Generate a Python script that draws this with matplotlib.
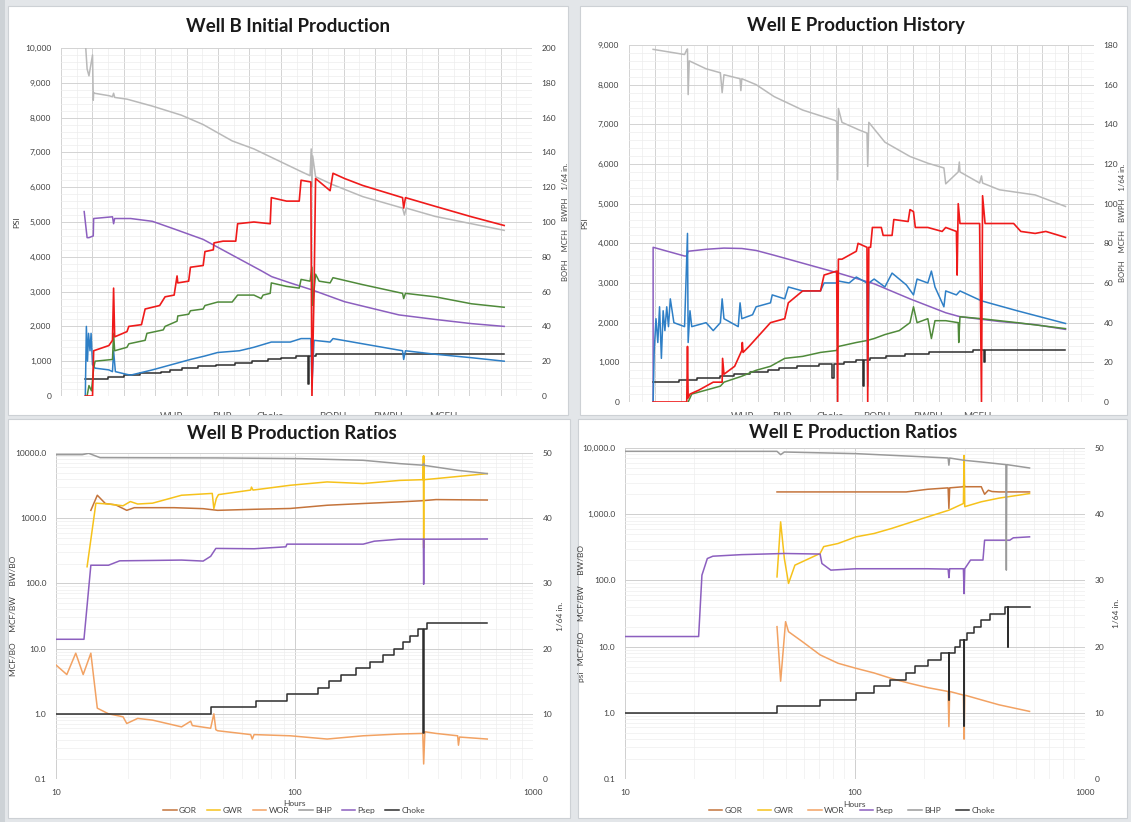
import matplotlib
matplotlib.use("Agg")
import matplotlib.pyplot as plt
import numpy as np
from matplotlib.patches import Rectangle
from matplotlib.ticker import FuncFormatter, LogLocator, NullFormatter

plt.rcParams['font.family'] = ['Lato', 'DejaVu Sans']

# ---------------- Well B initial production (hours; psi / right axis units)
wb_bhp_h = [10.7, 13.4, 16.2, 18.9, 21.6, 22.7, 23.3, 24.4, 46.3, 51.7, 53.4, 55.0, 73.6, 111.9, 155.7,
            188.6, 232.4, 265.2, 298.0, 336.4, 350.0, 351.7, 352.8, 353.9, 358.3, 384.6, 429.4, 489.6,
            492.4, 495.1, 538.9, 593.7, 643.0]
wb_bhp = [10200, 9400, 9200, 9500, 9800, 8500, 8720, 8700, 8630, 8600, 8700, 8580, 8530, 8330, 8070,
          7800, 7330, 7100, 6800, 6450, 6330, 7100, 6000, 6900, 6300, 6070, 5730, 5400,
          5200, 5400, 5160, 4950, 4760]

wb_whp_h = [9.0, 13.4, 16.2, 22.7, 23.3, 51.7, 53.4, 55.0, 79.1, 111.9, 144.8, 188.6, 213.0, 232.4,
            276.2, 292.0, 320.0, 352.8, 402.0, 484.2, 538.9, 593.7, 643.0]
wb_whp = [5300, 4550, 4550, 4600, 5100, 5150, 4950, 5100, 5100, 5020, 4800, 4500, 4250, 4050,
          3600, 3430, 3250, 3050, 2710, 2330, 2200, 2080, 2000]

wb_boph_h = [10.7, 21.6, 23.3, 46.3, 51.7, 53.4, 55.0, 73.6, 76.4, 95.5, 101.0, 122.9, 131.1, 144.8,
             149.2, 150.3, 166.7, 169.4, 188.6, 191.3, 203.9, 205.0, 218.7, 237.8, 240.6, 265.2, 289.8,
             291.5, 314.5, 333.6, 336.4, 351.2, 352.8, 356.0, 358.3, 380.2, 384.6, 402.0, 429.4, 489.6,
             491.3, 494.0, 538.9, 593.7, 643.0]
wb_boph = [0, 0, 26, 29, 32, 62, 34, 37, 40, 41, 50, 52, 57, 58,
           69, 65, 66, 74, 75, 83, 84, 88, 89, 89, 99, 100, 99,
           114, 112, 112, 124, 123, 0, 60, 125, 118, 128, 125, 121, 114,
           108, 114, 109, 103, 98]

wb_mcfh_h = [13.4, 16.2, 20.0, 23.3, 25.5, 51.7, 53.4, 55.0, 73.6, 76.4, 101.0, 103.7, 128.4, 131.1,
             149.2, 150.3, 166.7, 169.4, 188.6, 191.3, 210.5, 232.4, 240.6, 265.2, 276.2, 279.0, 289.8,
             291.5, 314.5, 333.6, 336.4, 350.0, 352.8, 353.9, 358.3, 363.7, 380.2, 384.6, 429.4, 489.6,
             491.3, 494.0, 538.9, 593.7, 643.0]
wb_mcfh = [0, 6, 3, 16, 20, 21, 36, 26, 28, 30, 32, 36, 38, 40,
           43, 46, 47, 49, 50, 52, 54, 54, 58, 58, 56, 58, 59,
           65, 63, 62, 67, 66, 74, 52, 70, 66, 65, 68, 64, 59,
           56, 59, 57, 53, 51]

wb_bwph_h = [10.7, 12.3, 14.0, 15.6, 17.8, 19.4, 21.6, 25.5, 46.3, 51.7, 53.4, 56.1, 73.6, 79.1, 101.0,
             111.9, 131.1, 150.3, 169.4, 191.3, 210.5, 243.3, 265.2, 291.5, 320.0, 336.4, 351.2, 352.8,
             356.0, 380.2, 384.6, 429.4, 489.6, 491.3, 494.0, 538.9, 593.7, 643.0]
wb_bwph = [0, 40, 20, 36, 26, 36, 18, 16, 15, 14, 26, 14, 12.4, 12, 14,
           15, 17, 19, 21, 23, 25, 26, 28, 31, 31, 33, 33, 6,
           32, 31, 33, 30, 26, 21, 26, 24, 22, 20]

wb_choke_h = [10, 44.5, 68.9, 92.9, 125, 139, 157, 181, 208, 236, 262, 286, 306, 329, 347, 349, 359, 643]
wb_choke = [10, 11, 12, 13, 14, 15, 16, 17, 18, 19, 20, 21, 22, 23, 7, 23, 24, 24]

# ---------------- Well B production ratios
wbr_bhp_h = [10, 12.9, 13.7, 15.3, 47.6, 107, 194, 276, 345, 348, 351, 483, 643]
wbr_bhp = [9430, 9430, 9900, 8490, 8400, 8190, 7730, 6870, 6500, 6900, 6450, 5430, 4830]

wbr_gwr_h = [13.5, 14.7, 16.6, 19.1, 20.5, 22.0, 25.4, 33.6, 45.2, 45.9, 47.0, 48.0, 65.5, 66.0, 67.0,
             96, 137, 194, 276, 346, 347, 348, 349, 350, 392, 643]
wbr_gwr = [180, 1700, 1650, 1550, 1800, 1650, 1700, 2250, 2400, 1400, 2000, 2300, 2700, 3000, 2700,
           3200, 3600, 3400, 3800, 3900, 9000, 350, 9000, 3900, 4050, 4830]

wbr_gor_h = [14.0, 14.9, 16.1, 17.8, 19.8, 21.3, 25.4, 31.3, 41.4, 47.6, 67.7, 96, 137, 194, 276, 340, 392, 643]
wbr_gor = [1320, 2250, 1680, 1600, 1320, 1450, 1450, 1450, 1400, 1320, 1370, 1410, 1580, 1680, 1780, 1850, 1930, 1900]

wbr_wor_h = [10, 11.1, 12.1, 13.0, 14.0, 14.9, 16.6, 19.1, 19.8, 22.0, 25.4, 33.6, 36.7, 37.3, 44.5,
             45.9, 46.8, 47.6, 65.5, 66.5, 67.7, 96, 137, 194, 276, 345, 348, 352, 392, 483, 487, 492, 643]
wbr_wor = [5.6, 4.0, 8.5, 4.0, 8.5, 1.22, 1.0, 0.9, 0.71, 0.85, 0.8, 0.63, 0.77, 0.66, 0.6,
           1.0, 0.57, 0.55, 0.48, 0.41, 0.48, 0.46, 0.41, 0.46, 0.49, 0.5, 0.17, 0.53, 0.5, 0.46, 0.33, 0.44, 0.41]

wbr_psep_h = [10, 13.1, 14.0, 16.6, 18.5, 25.4, 33.6, 41.4, 44.5, 46.8, 67.7, 92, 93, 130, 194,
              216, 276, 347, 348, 349, 392, 643]
wbr_psep = [13.9, 13.9, 190, 190, 222, 225, 228, 220, 260, 344, 340, 364, 400, 400, 400,
            444, 477, 477, 97, 477, 477, 480]

# ---------------- Well E production history
we_bhp_h = [10, 53, 56, 57, 57.9, 59.4, 82.4, 102, 104.4, 106.9, 128.9, 130, 131.3, 150.9, 175.4,
            214.5, 258.5, 261, 262.4, 263.4, 268.3, 292.8, 302.5, 303.5, 305, 327, 361.3, 385.7, 407.7,
            410.2, 427.3, 428.8, 429.7, 456.6, 459.1, 460.6, 483.6, 532.5, 574]
we_bhp = [8890, 8760, 8880, 8900, 7750, 8600, 8400, 8300, 7800, 8250, 8150, 7850, 8150, 8000, 7700,
          7360, 7100, 7070, 5600, 7400, 7050, 6850, 6780, 5940, 7050, 6550, 6190, 6020, 5900,
          5500, 5800, 6050, 5800, 5520, 5700, 5520, 5350, 5220, 4930]

we_whp_h = [10, 10, 53, 56, 57.9, 82.4, 106.9, 131.3, 150.9, 175.4, 214.5, 263.4, 312.3, 361.3, 410.2,
            429.7, 483.6, 532.5, 574]
we_whp = [0, 3900, 3680, 3680, 3800, 3850, 3880, 3870, 3820, 3700, 3500, 3250, 2980, 2600, 2250,
          2150, 2030, 1950, 1830]

we_bwph_h = [10, 11.5, 13.9, 16.4, 18.8, 21.3, 23.7, 26.1, 28.6, 31, 33.5, 38.4, 53, 57, 57.9,
             60.4, 62.8, 82.4, 92.2, 102, 104.4, 106.9, 126.4, 128.9, 131.3, 146, 150.9, 170.5, 172.9, 190,
             194.9, 214.5, 238.9, 243.8, 261, 262.4, 263.4, 278.1, 287.9, 302.5, 303.5, 305, 312.3, 327,
             336.8, 356.4, 366.1, 371, 385.7, 390.6, 395.5, 407.7, 410.2, 424.8, 429.7, 459.1, 508, 574]
we_bwph = [0, 26, 42, 30, 48, 22, 46, 36, 48, 38, 52, 40, 38, 85, 30,
           46, 38, 40, 36, 40, 52, 42, 38, 50, 42, 44, 48, 50, 54, 52,
           58, 56, 56, 60, 60, 66, 61, 60, 63, 60, 8, 60, 62, 58,
           65, 59, 54, 62, 60, 66, 58, 48, 56, 54, 56, 51, 46, 39.6]

we_boph_h = [10, 56, 57, 57.9, 60.4, 72.6, 92.2, 104.4, 105, 106.9, 121.5, 131.3, 132, 133, 141.1,
             150.9, 160.7, 170.5, 190, 194.9, 214.5, 238.9, 243.8, 261, 262.4, 263.4, 268.3, 287.9, 290.3,
             302.5, 303.5, 305, 307.4, 309.9, 322.1, 324.6, 336.8, 339.2, 358.8, 361.3, 366.1, 368.6,
             385.7, 405.3, 410.2, 424.8, 425.8, 427.3, 429.7, 456.6, 459.1, 460.6, 464, 503.1, 512.9,
             532.5, 547.1, 574]
we_boph = [0, 0, 28, 2, 4, 6, 10, 10, 22, 14, 18, 26, 30, 25, 28,
           32, 36, 40, 42, 50, 56, 56, 64, 66, 0, 72, 72, 76, 80,
           78, 0, 78, 78, 88, 88, 84, 84, 92, 91, 97, 96, 88,
           88, 86, 88, 86, 64, 100, 90, 90, 0, 104, 90, 90, 86,
           85, 86, 83]

we_mcfh_h = [57.9, 62.8, 82.4, 102, 106.9, 131.3, 150.9, 170.5, 190, 214.5, 238.9, 261, 263.4, 287.9,
             302.5, 312.3, 327, 346.6, 361.3, 366.1, 371, 385.7, 390.6, 395.5, 410.2, 427.3, 428, 429.7,
             459.1, 508, 574]
we_mcfh = [0, 4, 6, 8, 10, 13, 16, 18, 22, 23, 25, 26, 28, 30,
           31, 32, 34, 36, 40, 48, 40, 42, 32, 41, 41, 40, 30, 43,
           42, 40, 37]

we_choke_h = [10, 45.8, 70.5, 101, 121, 142, 167, 182, 207, 237, 255, 257, 271, 287, 297, 299, 306,
              329, 354, 387, 447, 462, 464, 574]
we_choke = [10, 11, 12, 13, 14, 15, 16, 17, 18, 19, 12, 19, 20, 21, 8, 21, 22,
            23, 24, 25, 26, 20, 26, 26]

# ---------------- Well E production ratios
wer_bhp_h = [10, 45.8, 47.5, 49.3, 101, 207, 254, 256, 258, 298, 354, 453, 455, 457, 574]
wer_bhp = [8910, 8900, 7940, 8700, 8220, 7310, 7060, 5500, 7060, 6520, 6150, 5610, 143, 5610, 4990]

wer_gor_h = [45.8, 167, 207, 254, 256, 258, 296, 298, 300, 354, 366, 380, 394, 423, 574]
wer_gor = [2170, 2170, 2380, 2500, 1220, 2500, 2600, 2900, 2600, 2600, 2000, 2300, 2200, 2170, 2170]

wer_gwr_h = [45.8, 47.5, 49.3, 51.4, 54.8, 70.5, 73.1, 84.4, 101, 121, 144, 207, 256, 296, 298, 300,
             354, 423, 574]
wer_gwr = [113, 766, 214, 90, 170, 255, 324, 361, 455, 511, 608, 912, 1150, 1450, 7700, 1300,
           1540, 1750, 2050]

wer_wor_h = [45.8, 47.5, 49.9, 51.4, 59, 70.5, 84.4, 101, 121, 144, 172, 207, 254, 256, 258, 296, 298,
             300, 354, 423, 574]
wer_wor = [20, 3, 23.8, 16.8, 11.9, 7.5, 5.6, 4.7, 4.0, 3.3, 2.8, 2.4, 2.1, 0.62, 2.1, 1.85, 0.4,
           1.85, 1.57, 1.32, 1.05]

wer_psep_h = [10, 20.9, 21.6, 22.8, 24.1, 32.1, 49.3, 70.5, 71.8, 78.5, 101, 207, 254, 256, 258, 296,
              298, 300, 318, 360, 366, 471, 488, 574]
wer_psep = [14.2, 14.2, 120, 214, 232, 245, 255, 250, 180, 143, 150, 150, 148, 110, 150, 150,
            63, 150, 203, 203, 405, 405, 440, 455]

top_labels = ['WHP', 'BHP', 'Choke', 'BOPH', 'BWPH', 'MCFH']

C_WHP, C_BHP, C_CHOKE = '#8c5fbf', '#b9b9b9', '#2e2e2e'
C_BOPH, C_BWPH, C_MCFH = '#ef1a1a', '#2e7fc6', '#4f8a3a'
C_GOR, C_GWR, C_WOR = '#c4743c', '#f6c21b', '#f2a263'
C_RBHP, C_PSEP = '#9a9a9a', '#8c5fbf'
TXT = '#404040'

W, H = 1131, 822
fig = plt.figure(figsize=(W / 100, H / 100), dpi=100)
fig.patch.set_facecolor('#e3e6e9')

# darker strip along the left edge of the screenshot
fig.add_artist(Rectangle((0, 0), 5 / W, 1, transform=fig.transFigure,
                         facecolor='#cdd2d6', edgecolor='none', zorder=-2))


def px_rect(x0, y0, x1, y1):
    # pixel box (top-left origin) -> figure fraction rect
    return [x0 / W, 1 - y1 / H, (x1 - x0) / W, (y1 - y0) / H]


def panel_box(x0, y0, x1, y1):
    r = px_rect(x0, y0, x1, y1)
    p = Rectangle((r[0], r[1]), r[2], r[3], transform=fig.transFigure,
                  facecolor='white', edgecolor='#cdd1d5', lw=0.8, zorder=-1)
    fig.add_artist(p)
    return p


box_tl = panel_box(8, 6, 568, 415)
box_tr = panel_box(580, 6, 1127, 415)
panel_box(8, 419, 570, 818)
panel_box(578, 419, 1127, 818)


def top_panel(rect, xlim, ymax, rmax, nmaj, left_lx, right_lx):
    ax = fig.add_axes(rect)
    ax.set_xlim(*xlim)
    ax.set_ylim(0, ymax)
    ax.set_xticks(np.linspace(xlim[0], xlim[1], nmaj + 1))
    ax.set_xticks(np.linspace(xlim[0], xlim[1], 2 * nmaj + 1), minor=True)
    ax.set_yticks(np.arange(0, ymax + 1, 1000))
    ax.set_yticks(np.arange(0, ymax + 1, 200), minor=True)
    ax.yaxis.set_major_formatter(FuncFormatter(lambda v, p: f"{v:,.0f}"))
    ax.tick_params(axis='x', which='both', length=0, labelbottom=False)
    ax.tick_params(axis='y', which='both', length=0, labelsize=6, labelcolor=TXT, pad=7)
    ax.grid(which='major', color='#d3d3d3', lw=0.7)
    ax.grid(which='minor', color='#ededed', lw=0.5)
    ax.set_axisbelow(True)
    for s in ax.spines.values():
        s.set_visible(False)
    ax.set_ylabel('PSI', fontsize=6, color=TXT)
    ax.yaxis.set_label_coords(left_lx, 0.5)
    ax2 = ax.twinx()
    ax2.set_ylim(0, rmax)
    ax2.set_yticks(np.arange(0, rmax + 1, 20))
    ax2.tick_params(length=0, labelsize=6, labelcolor=TXT, pad=7)
    for s in ax2.spines.values():
        s.set_visible(False)
    ax2.set_ylabel('BOPH    MCFH    BWPH    1/64 in.', fontsize=5.5, color=TXT)
    ax2.yaxis.set_label_coords(right_lx, 0.5)
    return ax, ax2


def ratio_panel(rect, fmt, left_label, left_lx, right_lx):
    ax = fig.add_axes(rect)
    ax.set_xscale('log')
    ax.set_yscale('log')
    ax.set_xlim(10, 1000)
    ax.set_ylim(0.1, 10000)
    ax.set_xticks([10, 100, 1000])
    ax.set_xticklabels(['10', '100', '1000'])
    ax.xaxis.set_minor_locator(LogLocator(base=10, subs=np.arange(2, 10), numticks=20))
    ax.xaxis.set_minor_formatter(NullFormatter())
    ax.set_yticks([0.1, 1, 10, 100, 1000, 10000])
    ax.set_yticklabels([fmt(v) for v in [0.1, 1, 10, 100, 1000, 10000]])
    ax.yaxis.set_minor_locator(LogLocator(base=10, subs=np.arange(2, 10), numticks=20))
    ax.yaxis.set_minor_formatter(NullFormatter())
    ax.tick_params(which='both', length=0, labelsize=6, labelcolor=TXT, pad=7)
    ax.grid(which='major', color='#cfcfcf', lw=0.7)
    ax.grid(which='minor', color='#eeeeee', lw=0.5)
    ax.set_axisbelow(True)
    for s in ax.spines.values():
        s.set_visible(False)
    ax.set_ylabel(left_label, fontsize=6, color=TXT)
    ax.yaxis.set_label_coords(left_lx, 0.5)
    ax.set_xlabel('Hours', fontsize=6, color=TXT)
    ax.xaxis.set_label_coords(0.5, -0.065)
    ax2 = ax.twinx()
    ax2.set_ylim(0, 50)
    ax2.set_yticks(range(0, 51, 10))
    ax2.tick_params(length=0, labelsize=6, labelcolor=TXT, pad=7)
    for s in ax2.spines.values():
        s.set_visible(False)
    ax2.set_ylabel('1/64 in.', fontsize=6, color=TXT)
    ax2.yaxis.set_label_coords(right_lx, 0.5)
    return ax, ax2


# ---- Well B initial production
ax, ax2 = top_panel(px_rect(61, 48, 532, 396), (-26, 685), 10000, 200, 15, -0.087, 1.064)
ax.plot(wb_bhp_h, wb_bhp, color=C_BHP, lw=1.1)
ax.plot(wb_whp_h, wb_whp, color=C_WHP, lw=1.1)
ax2.plot(wb_choke_h, wb_choke, color=C_CHOKE, lw=1.1, drawstyle='steps-post')
ax2.plot(wb_bwph_h, wb_bwph, color=C_BWPH, lw=1.1)
ax2.plot(wb_mcfh_h, wb_mcfh, color=C_MCFH, lw=1.1)
ax2.plot(wb_boph_h, wb_boph, color=C_BOPH, lw=1.2)

# ---- Well E production history
ax, ax2 = top_panel(px_rect(629, 45, 1094, 402), (-23, 613), 9000, 180, 18, -0.088, 1.054)
ax.plot(we_bhp_h, we_bhp, color=C_BHP, lw=1.1)
ax.plot(we_whp_h, we_whp, color=C_WHP, lw=1.1)
ax2.plot(we_choke_h, we_choke, color=C_CHOKE, lw=1.1, drawstyle='steps-post')
ax2.plot(we_mcfh_h, we_mcfh, color=C_MCFH, lw=1.1)
ax2.plot(we_bwph_h, we_bwph, color=C_BWPH, lw=1.1)
ax2.plot(we_boph_h, we_boph, color=C_BOPH, lw=1.2)

# legends of the top charts are cut off by the screenshot
for labels, xs, box in [(top_labels, [172, 222, 270, 333, 388, 443], box_tl),
                        (top_labels, [743, 782, 830, 877, 928, 977], box_tr)]:
    for lab, xp in zip(labels, xs):
        t = fig.text(xp / W, 1 - 416 / H, lab, ha='center', va='center', fontsize=7, color='#555555')
        t.set_clip_path(box)

# ---- Well B production ratios
ax, ax2 = ratio_panel(px_rect(56, 453, 533, 779), lambda v: f"{v:.1f}",
                      'MCF/BO     MCF/BW     BW/BO', -0.082, 1.05)
l1, = ax.plot(wbr_gor_h, wbr_gor, color=C_GOR, lw=1.1, label='GOR')
l2, = ax.plot(wbr_gwr_h, wbr_gwr, color=C_GWR, lw=1.1, label='GWR')
l3, = ax.plot(wbr_wor_h, wbr_wor, color=C_WOR, lw=1.1, label='WOR')
l4, = ax.plot(wbr_bhp_h, wbr_bhp, color=C_RBHP, lw=1.1, label='BHP')
l5, = ax.plot(wbr_psep_h, wbr_psep, color=C_PSEP, lw=1.1, label='Psep')
l6, = ax2.plot(wb_choke_h, wb_choke, color=C_CHOKE, lw=1.1, drawstyle='steps-post', label='Choke')
fig.legend(handles=[l1, l2, l3, l4, l5, l6], loc='center', bbox_to_anchor=(294 / W, 1 - 810 / H),
           ncol=6, frameon=False, fontsize=6, handlelength=1.6, columnspacing=1.2, handletextpad=0.3,
           labelcolor=TXT)

# ---- Well E production ratios
ax, ax2 = ratio_panel(px_rect(625, 448, 1085, 779), lambda v: f"{v:,.1f}",
                      'psi   MCF/BO     MCF/BW     BW/BO', -0.087, 1.061)
l1, = ax.plot(wer_gor_h, wer_gor, color=C_GOR, lw=1.1, label='GOR')
l2, = ax.plot(wer_gwr_h, wer_gwr, color=C_GWR, lw=1.1, label='GWR')
l3, = ax.plot(wer_wor_h, wer_wor, color=C_WOR, lw=1.1, label='WOR')
l4, = ax.plot(wer_psep_h, wer_psep, color=C_PSEP, lw=1.1, label='Psep')
l5, = ax.plot(wer_bhp_h, wer_bhp, color=C_RBHP, lw=1.1, label='BHP')
l6, = ax2.plot(we_choke_h, we_choke, color=C_CHOKE, lw=1.1, drawstyle='steps-post', label='Choke')
fig.legend(handles=[l1, l2, l3, l4, l5, l6], loc='center', bbox_to_anchor=(852 / W, 1 - 810 / H),
           ncol=6, frameon=False, fontsize=6, handlelength=1.6, columnspacing=1.8, handletextpad=0.3,
           labelcolor=TXT)

# titles
for txt, xp, yp in [('Well B Initial Production', 288, 27), ('Well E Production History', 856, 25),
                    ('Well B Production Ratios', 292, 433), ('Well E Production Ratios', 853, 432)]:
    fig.text(xp / W, 1 - yp / H, txt, ha='center', va='center', fontsize=13.5,
             fontweight='bold', color='#1a1a1a')

fig.savefig('out.png', dpi=100, facecolor=fig.get_facecolor())
